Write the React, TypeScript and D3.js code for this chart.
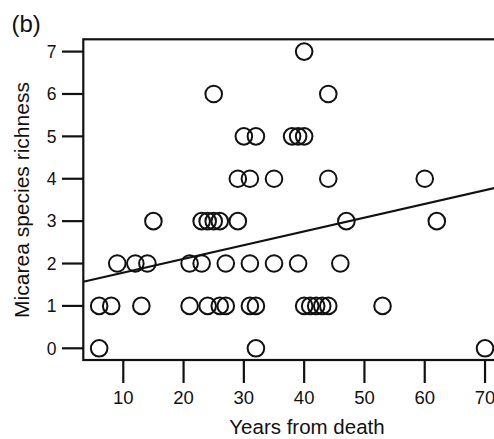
import React from "react";
import * as d3 from "d3";

const row0 = [6, 32, 70];
const row1 = [6, 8, 13, 21, 24, 26, 27, 31, 32, 40, 41, 42, 43, 44, 53];
const row2 = [9, 12, 14, 21, 23, 27, 31, 35, 39, 46];
const row3 = [15, 23, 24, 25, 26, 29, 47, 62];
const row4 = [29, 31, 35, 44, 60];
const row5 = [30, 32, 38, 39, 40];
const row6 = [25, 44];
const row7 = [40];
const rows = [row0, row1, row2, row3, row4, row5, row6, row7];

const xTicks = [10, 20, 30, 40, 50, 60, 70];
const yTicks = [0, 1, 2, 3, 4, 5, 6, 7];
const fitIntercept = 1.463;
const fitSlope = 0.0324;

export default function App() {
  const W = 494, H = 439;
  const left = 83.3, right = 520, top = 39.3, bottom = 360;
  const x = d3.scaleLinear().domain([3.37, 75.8]).range([left, right]);
  const y = d3.scaleLinear().domain([-0.276, 7.29]).range([bottom, top]);
  const points = rows.flatMap((r, i) => r.map((v) => ({ x: v, y: i })));
  const xd = x.domain();
  const line = d3.line<number>().x((v) => x(v)).y((v) => y(fitIntercept + fitSlope * v));
  const font = "Liberation Sans, Arial, Helvetica, sans-serif";
  return (
    <svg width={W} height={H} style={{ position: "absolute", left: 0, top: 0, background: "#fff" }} fontFamily={font}>
      <text x={11.5} y={31.5} fontSize={24} fill="#111">(b)</text>
      <defs>
        <clipPath id="plotclip">
          <rect x={left} y={top} width={right - left} height={bottom - top} />
        </clipPath>
      </defs>
      <g clipPath="url(#plotclip)">
        <path d={line([xd[0], xd[1]]) || ""} fill="none" stroke="#111" strokeWidth={2} />
      </g>
      {points.map((p, i) => (
        <circle key={i} cx={x(p.x)} cy={y(p.y)} r={8.3} fill="none" stroke="#111" strokeWidth={2} />
      ))}
      <rect x={left} y={top} width={right - left} height={bottom - top} fill="none" stroke="#111" strokeWidth={2.2} />
      {yTicks.map((t) => (
        <g key={t}>
          <line x1={62} x2={left} y1={y(t)} y2={y(t)} stroke="#111" strokeWidth={2.2} />
          <text x={56.5} y={y(t)} dy="0.36em" textAnchor="end" fontSize={17.5} fill="#111">{t}</text>
        </g>
      ))}
      {xTicks.map((t) => (
        <g key={t}>
          <line x1={x(t)} x2={x(t)} y1={bottom} y2={383} stroke="#111" strokeWidth={2.2} />
          <text x={x(t)} y={404} textAnchor="middle" fontSize={18.5} fill="#111">{t}</text>
        </g>
      ))}
      <text x={307} y={434} textAnchor="middle" fontSize={20.5} fill="#111">Years from death</text>
      <text transform={`translate(28.5,200) rotate(-90)`} textAnchor="middle" fontSize={21} fill="#111">Micarea species richness</text>
    </svg>
  );
}
